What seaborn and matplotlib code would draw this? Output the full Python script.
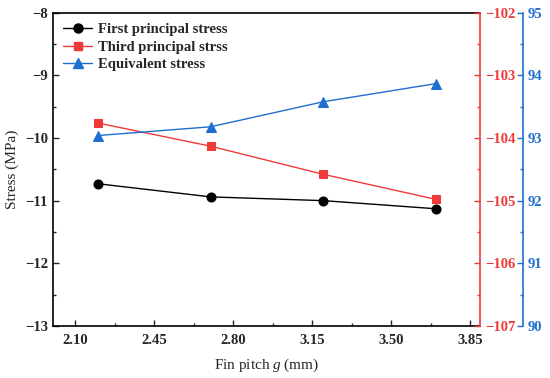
import matplotlib
matplotlib.use("Agg")
import matplotlib.pyplot as plt
import seaborn as sns
import pandas as pd
from matplotlib.ticker import MultipleLocator, FixedLocator
from matplotlib.lines import Line2D

fin_pitch = [2.2, 2.7, 3.2, 3.7]
first_principal = [-10.73, -10.94, -11.00, -11.13]
third_principal = [-103.76, -104.13, -104.58, -104.98]
equivalent = [93.04, 93.18, 93.58, 93.87]
x_ticks = [2.10, 2.45, 2.80, 3.15, 3.50, 3.85]

BLACK = "#000000"
RED = "#F03A3A"
BLUE = "#1E6FD0"

sns.set_style("ticks")
plt.rcParams["font.family"] = ["Liberation Serif", "DejaVu Serif"]
plt.rcParams["mathtext.fontset"] = "custom"
plt.rcParams["mathtext.it"] = "Liberation Serif:italic"
plt.rcParams["mathtext.rm"] = "Liberation Serif"

df1 = pd.DataFrame({"x": fin_pitch, "y": first_principal})
df3 = pd.DataFrame({"x": fin_pitch, "y": third_principal})
dfe = pd.DataFrame({"x": fin_pitch, "y": equivalent})

fig, ax = plt.subplots(figsize=(5.5, 3.78), dpi=100)
fig.subplots_adjust(left=0.096, right=0.873, top=0.966, bottom=0.138)

ax_r = ax.twinx()
ax_b = ax.twinx()
ax_b.spines["right"].set_position(("outward", 31))

lw = 1.0
sns.lineplot(data=df1, x="x", y="y", ax=ax, color=BLACK, marker="o", markersize=6.5,
             markeredgecolor=BLACK, linewidth=lw, legend=False)
sns.lineplot(data=df3, x="x", y="y", ax=ax_r, color=RED, marker="s", markersize=6,
             markeredgecolor=RED, linewidth=lw, legend=False)
sns.lineplot(data=dfe, x="x", y="y", ax=ax_b, color=BLUE, marker="^", markersize=6.5,
             markeredgecolor=BLUE, linewidth=lw, legend=False)

ax.set_xlim(2.0, 3.895)
ax.set_ylim(-13, -8)
ax_r.set_ylim(-107, -102)
ax_b.set_ylim(90, 95)

ax.xaxis.set_major_locator(FixedLocator(x_ticks))
ax.xaxis.set_minor_locator(MultipleLocator(0.175))
ax.set_xticklabels([f"{v:.2f}" for v in x_ticks])
ax.yaxis.set_major_locator(MultipleLocator(1))
ax.yaxis.set_minor_locator(MultipleLocator(0.5))
for a in (ax_r, ax_b):
    a.yaxis.set_major_locator(MultipleLocator(1))
    a.yaxis.set_minor_locator(MultipleLocator(0.5))

tick_fs = 10.5
ax.tick_params(axis="both", which="major", direction="in", length=4, width=1.0,
               labelsize=tick_fs, top=False, right=False)
ax.tick_params(axis="x", which="major", pad=6)
ax.tick_params(axis="both", which="minor", direction="in", length=2.5, width=1.0,
               top=False, right=False)
for lab in ax.get_xticklabels() + ax.get_yticklabels():
    lab.set_fontweight("bold")

for a, c in ((ax_r, RED), (ax_b, BLUE)):
    a.tick_params(axis="y", which="major", direction="in", length=4, width=1.0,
                  colors=c, labelsize=tick_fs)
    a.tick_params(axis="y", which="minor", direction="in", length=2.5, width=1.0, colors=c)
    for lab in a.get_yticklabels():
        lab.set_fontweight("bold")
        lab.set_color(c)
    for s in ("top", "left", "bottom"):
        a.spines[s].set_visible(False)
    a.spines["right"].set_color(c)
    a.spines["right"].set_linewidth(1.2)
    a.set_ylabel("")

for s in ("left", "bottom", "top"):
    ax.spines[s].set_linewidth(1.2)
    ax.spines[s].set_color(BLACK)
ax.spines["right"].set_visible(False)

ax.set_xlabel("Fin pitch $g$ (mm)", fontsize=11, labelpad=7)
ax.set_ylabel("Stress (MPa)", fontsize=11, labelpad=4)

handles = [
    Line2D([], [], color=BLACK, marker="o", markersize=6.5, linewidth=lw),
    Line2D([], [], color=RED, marker="s", markersize=6, linewidth=lw),
    Line2D([], [], color=BLUE, marker="^", markersize=6.5, linewidth=lw),
]
labels = ["First principal stress", "Third principal strss", "Equivalent stress"]
ax_b.legend(handles, labels, loc="upper left", bbox_to_anchor=(0.0, 1.0), frameon=False,
            prop={"weight": "bold", "size": 10.5}, handlelength=2.0, handletextpad=0.4,
            labelspacing=0.3, borderaxespad=0.3)

fig.savefig("out.png", dpi=100)
